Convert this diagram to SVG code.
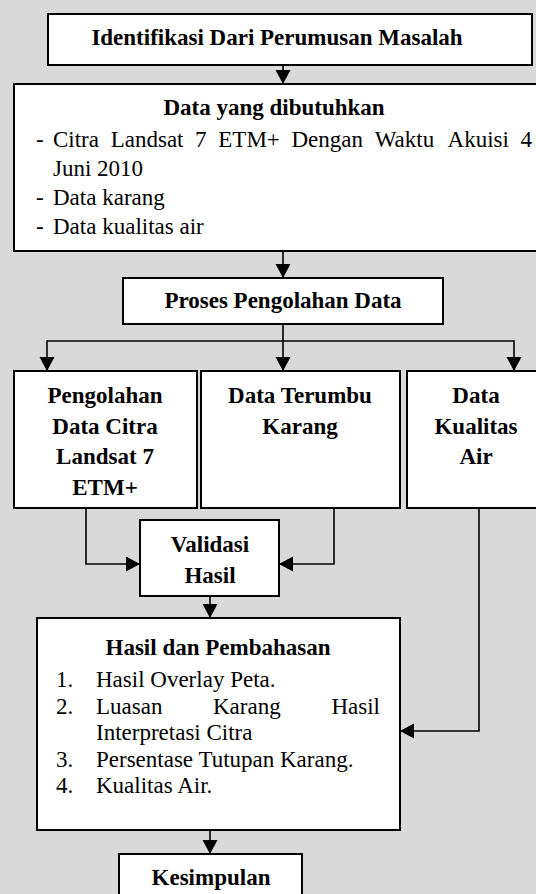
<svg xmlns="http://www.w3.org/2000/svg" width="536" height="894" viewBox="0 0 536 894">
<style>
.bx{fill:#fff;stroke:#000;stroke-width:2}
.t{font-family:'Liberation Serif',serif;font-size:23px;fill:#000}
.b{font-weight:bold;text-anchor:middle}
.ln{fill:none;stroke:#000;stroke-width:1.6}
</style>
<defs>
<marker id="ah" markerUnits="userSpaceOnUse" markerWidth="16" markerHeight="16" refX="14" refY="7.5" orient="auto">
<path d="M0,0 L14,7.5 L0,15 z" fill="#000"/>
</marker>
</defs>
<rect x="0" y="0" width="536" height="894" fill="#d9d9d9"/>

<g id="connectors">
<line class="ln" x1="283" y1="65" x2="283" y2="84" marker-end="url(#ah)"/>
<line class="ln" x1="283" y1="251" x2="283" y2="278" marker-end="url(#ah)"/>
<line class="ln" x1="283" y1="324" x2="283" y2="371" marker-end="url(#ah)"/>
<line class="ln" x1="47" y1="341" x2="514" y2="341"/>
<line class="ln" x1="47" y1="340.2" x2="47" y2="371" marker-end="url(#ah)"/>
<line class="ln" x1="514" y1="340.2" x2="514" y2="371" marker-end="url(#ah)"/>
<polyline class="ln" points="86,508 86,564 140,564" marker-end="url(#ah)"/>
<polyline class="ln" points="334,508 334,564 279,564" marker-end="url(#ah)"/>
<line class="ln" x1="210" y1="596" x2="210" y2="618" marker-end="url(#ah)"/>
<polyline class="ln" points="479,508 479,731 400,731" marker-end="url(#ah)"/>
<line class="ln" x1="210" y1="830" x2="210" y2="854" marker-end="url(#ah)"/>
</g>

<g id="identifikasi">
<rect class="bx" x="48" y="14" width="484" height="51"/>
<text class="t b" x="277" y="45">Identifikasi Dari Perumusan Masalah</text>
</g>

<g id="data-dibutuhkan">
<rect class="bx" x="14" y="84" width="530" height="167"/>
<text class="t b" x="274" y="115">Data yang dibutuhkan</text>
<text class="t" y="147"><tspan x="36">-</tspan><tspan x="53">Citra</tspan><tspan x="110.7">Landsat</tspan><tspan x="195.1">7</tspan><tspan x="218.3">ETM+</tspan><tspan x="291.5">Dengan</tspan><tspan x="374.7">Waktu</tspan><tspan x="447.6">Akuisi</tspan></text>
<text class="t" x="532" y="147" text-anchor="end">4</text>
<text class="t" x="53" y="176">Juni 2010</text>
<text class="t" y="205"><tspan x="36">-</tspan><tspan x="53">Data karang</tspan></text>
<text class="t" y="234"><tspan x="36">-</tspan><tspan x="53">Data kualitas air</tspan></text>
</g>

<g id="proses">
<rect class="bx" x="123" y="278" width="320" height="46"/>
<text class="t b" x="283" y="308">Proses Pengolahan Data</text>
</g>

<g id="pengolahan-citra">
<rect class="bx" x="14" y="371" width="183" height="137"/>
<text class="t b" x="105" y="403">Pengolahan</text>
<text class="t b" x="105" y="434">Data Citra</text>
<text class="t b" x="105" y="464">Landsat 7</text>
<text class="t b" x="105" y="495">ETM+</text>
</g>

<g id="terumbu-karang">
<rect class="bx" x="201" y="371" width="199" height="137"/>
<text class="t b" x="300" y="403">Data Terumbu</text>
<text class="t b" x="300" y="434">Karang</text>
</g>

<g id="kualitas-air">
<rect class="bx" x="407" y="371" width="140" height="137"/>
<text class="t b" x="476" y="403">Data</text>
<text class="t b" x="476" y="434">Kualitas</text>
<text class="t b" x="476" y="464">Air</text>
</g>

<g id="validasi">
<rect class="bx" x="140" y="520" width="139" height="76"/>
<text class="t b" x="210" y="552">Validasi</text>
<text class="t b" x="210" y="583">Hasil</text>
</g>

<g id="hasil-pembahasan">
<rect class="bx" x="37" y="618" width="363" height="212"/>
<text class="t b" x="218" y="655">Hasil dan Pembahasan</text>
<text class="t" y="687"><tspan x="56">1.</tspan><tspan x="96">Hasil Overlay Peta.</tspan></text>
<text class="t" y="714"><tspan x="56">2.</tspan><tspan x="96">Luasan</tspan><tspan x="213">Karang</tspan></text>
<text class="t" x="380" y="714" text-anchor="end">Hasil</text>
<text class="t" x="96" y="740">Interpretasi Citra</text>
<text class="t" y="767"><tspan x="56">3.</tspan><tspan x="96">Persentase Tutupan Karang.</tspan></text>
<text class="t" y="793"><tspan x="56">4.</tspan><tspan x="96">Kualitas Air.</tspan></text>
</g>

<g id="kesimpulan">
<rect class="bx" x="119" y="854" width="183" height="60"/>
<text class="t b" x="211" y="885">Kesimpulan</text>
</g>
</svg>
